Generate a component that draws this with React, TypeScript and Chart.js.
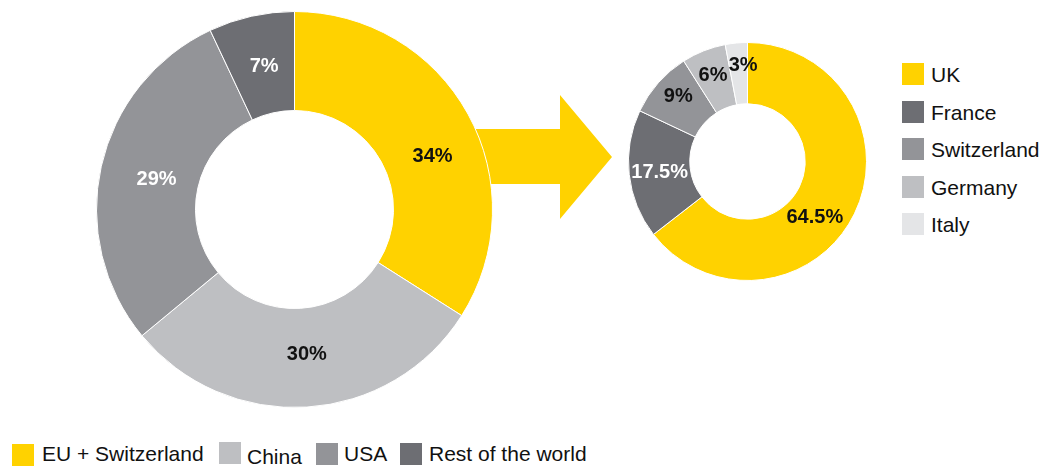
import React, { useEffect, useRef } from "react";
import { Chart, registerables } from "chart.js";

Chart.register(...registerables);

// Left donut: regional split
const regionLabels = ["EU + Switzerland", "China", "USA", "Rest of the world"];
const regionValues = [34, 30, 29, 7];
const regionValueText = ["34%", "30%", "29%", "7%"];

// Right donut: EU + Switzerland breakdown
const countryLabels = ["UK", "France", "Switzerland", "Germany", "Italy"];
const countryValues = [64.5, 17.5, 9, 6, 3];
const countryValueText = ["64.5%", "17.5%", "9%", "6%", "3%"];

// Styles
const YELLOW = "#FFD200";
const DARK = "#6D6E73";
const MID = "#939498";
const LIGHT = "#BEBFC2";
const LIGHTEST = "#E4E5E7";

const regionColors = [YELLOW, LIGHT, MID, DARK];
const regionTextColors = ["#111111", "#111111", "#FFFFFF", "#FFFFFF"];
const regionLabelNudge = [[8, 19], [3, -3], [7, 2], [2, 2]];
const countryColors = [YELLOW, DARK, MID, LIGHT, LIGHTEST];
const countryTextColors = ["#111111", "#FFFFFF", "#111111", "#111111", "#111111"];
const countryLabelNudge = [[-12, 17], [0, 1], [-3, -7], [-2, -4], [4, -8]];

const FONT = "'Liberation Sans', Arial, sans-serif";

function makeLabelPlugin(texts: string[], colors: string[], nudge: number[][]) {
  return {
    id: "sliceLabels",
    afterDatasetsDraw(chart: any) {
      const ctx = chart.ctx;
      const meta = chart.getDatasetMeta(0);
      ctx.save();
      ctx.font = `bold 20px ${FONT}`;
      ctx.textAlign = "center";
      ctx.textBaseline = "middle";
      meta.data.forEach((arc: any, i: number) => {
        const p = arc.tooltipPosition();
        ctx.fillStyle = colors[i];
        ctx.fillText(texts[i], p.x + nudge[i][0], p.y + nudge[i][1]);
      });
      ctx.restore();
    },
  };
}

function Donut(props: {
  labels: string[];
  values: number[];
  colors: string[];
  texts: string[];
  textColors: string[];
  nudge: number[][];
  size: number;
  cutout: string;
}) {
  const ref = useRef<HTMLCanvasElement | null>(null);
  useEffect(() => {
    if (!ref.current) return;
    const chart = new Chart(ref.current, {
      type: "doughnut",
      data: {
        labels: props.labels,
        datasets: [
          {
            data: props.values,
            backgroundColor: props.colors,
            borderColor: "#FFFFFF",
            borderWidth: 1,
            hoverOffset: 0,
          },
        ],
      },
      options: {
        responsive: false,
        maintainAspectRatio: false,
        animation: false,
        cutout: props.cutout,
        layout: { padding: 0 },
        plugins: {
          legend: { display: false },
          tooltip: { enabled: false },
        },
        events: [],
      },
      plugins: [makeLabelPlugin(props.texts, props.textColors, props.nudge)],
    });
    return () => chart.destroy();
  }, []);
  return <canvas ref={ref} width={props.size} height={props.size} style={{ display: "block" }} />;
}

const legendText: React.CSSProperties = {
  position: "absolute",
  font: `21px ${FONT}`,
  color: "#111111",
  whiteSpace: "nowrap",
  lineHeight: "22px",
};

export default function App() {
  const bottomItems = [
    { sq: 12, sy: 444, tx: 42, ty: 443 },
    { sq: 219, sy: 442, tx: 247, ty: 446 },
    { sq: 316, sy: 443, tx: 344, ty: 443 },
    { sq: 400, sy: 443, tx: 429, ty: 443 },
  ];
  return (
    <div
      style={{
        position: "fixed",
        left: 0,
        top: 0,
        width: 1052,
        height: 466,
        background: "#FFFFFF",
        overflow: "hidden",
      }}
    >
      <svg width={1052} height={466} style={{ position: "absolute", left: 0, top: 0 }}>
        <polygon
          points="460,129 560,129 560,95 612,157 560,219 560,184 460,184"
          fill={YELLOW}
        />
      </svg>
      <div style={{ position: "absolute", left: 96, top: 11 }}>
        <Donut
          labels={regionLabels}
          values={regionValues}
          colors={regionColors}
          texts={regionValueText}
          textColors={regionTextColors}
          nudge={regionLabelNudge}
          size={397}
          cutout="50%"
        />
      </div>
      <div style={{ position: "absolute", left: 628, top: 42 }}>
        <Donut
          labels={countryLabels}
          values={countryValues}
          colors={countryColors}
          texts={countryValueText}
          textColors={countryTextColors}
          nudge={countryLabelNudge}
          size={239}
          cutout="48.5%"
        />
      </div>
      {countryLabels.map((l, i) => (
        <React.Fragment key={l}>
          <div
            style={{
              position: "absolute",
              left: 902,
              top: 63 + i * 37.5,
              width: 22,
              height: 22,
              background: countryColors[i],
            }}
          />
          <div style={{ ...legendText, left: 931, top: 64 + i * 37.5 }}>{l}</div>
        </React.Fragment>
      ))}
      {regionLabels.map((l, i) => (
        <React.Fragment key={l}>
          <div
            style={{
              position: "absolute",
              left: bottomItems[i].sq,
              top: bottomItems[i].sy,
              width: 22,
              height: 22,
              background: regionColors[i],
            }}
          />
          <div style={{ ...legendText, left: bottomItems[i].tx, top: bottomItems[i].ty }}>{l}</div>
        </React.Fragment>
      ))}
    </div>
  );
}
